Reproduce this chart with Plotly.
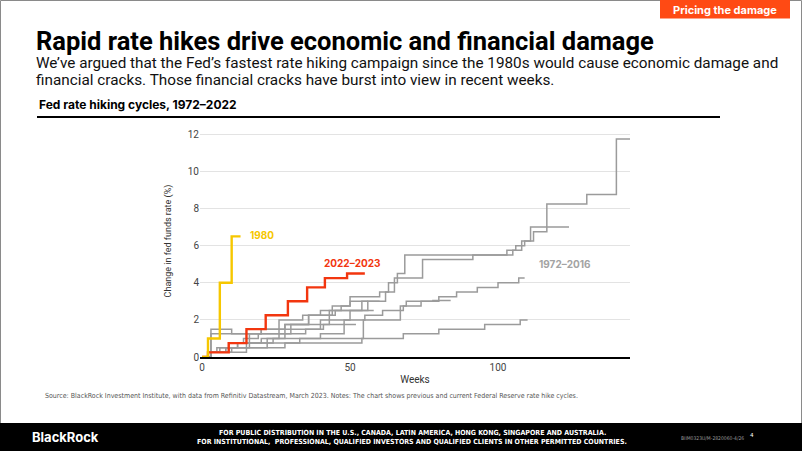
import plotly.graph_objects as go

# ---------------- data ----------------
y1980_weeks = [0, 2, 6, 10, 13]
y1980_vals = [0, 1.0, 4.0, 6.5, 6.5]

r2022_weeks = [0, 2, 9, 15, 21.5, 29, 35.5, 41.5, 49, 55]
r2022_vals = [0, 0.25, 0.75, 1.5, 2.25, 3.0, 3.75, 4.25, 4.5, 4.5]

g1_weeks = [0, 3, 8, 16, 20, 26, 40, 50, 56, 62, 65, 74.5, 91.5, 105, 108, 112, 116.5, 130, 140, 145]
g1_vals = [0, 0.25, 0.5, 0.75, 1.0, 1.5, 2.0, 2.5, 3.0, 3.5, 4.25, 5.25, 5.5, 5.75, 6.25, 6.75, 8.25, 8.75, 11.75, 11.75]

g2_weeks = [0, 3, 6, 9, 14, 19, 28, 36, 44, 50, 60, 63, 66, 68.5, 103, 106, 109, 111, 124]
g2_vals = [0, 0.25, 0.5, 0.75, 1.0, 1.25, 1.75, 2.25, 2.75, 3.25, 3.5, 4.0, 4.5, 5.5, 5.75, 6.0, 6.25, 7.0, 7.0]

g3_weeks = [0, 2, 9, 15, 22, 28, 35, 41, 48, 55, 61, 68, 74, 80, 86, 93, 100, 107, 109]
g3_vals = [0, 0.25, 0.5, 0.75, 1.0, 1.25, 1.5, 1.75, 2.0, 2.25, 2.5, 2.75, 3.0, 3.25, 3.5, 3.75, 4.0, 4.25, 4.25]

g4_weeks = [0, 2, 15, 28, 54, 68, 80, 95.5, 107.5, 110]
g4_vals = [0, 0.25, 0.5, 0.75, 1.0, 1.25, 1.5, 1.75, 2.0, 2.0]

g5_weeks = [0, 2, 8, 12, 16, 30, 43, 54, 60]
g5_vals = [0, 0.25, 0.5, 0.75, 1.25, 1.75, 2.5, 3.0, 3.0]

g6_weeks = [0, 2, 10, 22, 33, 40, 48, 52]
g6_vals = [0, 0.25, 0.5, 0.75, 1.0, 1.25, 1.75, 1.75]

g7_weeks = [0, 2, 5, 12, 24, 54.5, 67, 69, 78, 84]
g7_vals = [0, 0.25, 0.5, 0.75, 1.0, 2.0, 2.75, 3.0, 3.05, 3.05]

g8_weeks = [0, 3, 10, 20, 26, 34, 40, 47, 50, 56]
g8_vals = [0, 1.5, 1.25, 1.5, 2.0, 2.25, 2.5, 2.75, 3.0, 3.0]

g9_weeks = [0, 3, 20, 28, 36, 45, 58]
g9_vals = [0, 1.25, 1.5, 1.75, 2.25, 2.5, 2.5]

grey_series = [
    (g1_weeks, g1_vals), (g2_weeks, g2_vals), (g3_weeks, g3_vals),
    (g4_weeks, g4_vals), (g5_weeks, g5_vals), (g6_weeks, g6_vals),
    (g7_weeks, g7_vals), (g8_weeks, g8_vals), (g9_weeks, g9_vals),
]

y_ticks = [0, 2, 4, 6, 8, 10, 12]
x_ticks = [0, 50, 100]

title_text = "Rapid rate hikes drive economic and financial damage"
subtitle_l1 = "We\u2019ve argued that the Fed\u2019s fastest rate hiking campaign since the 1980s would cause economic damage and"
subtitle_l2 = "financial cracks. Those financial cracks have burst into view in recent weeks."
chart_title = "Fed rate hiking cycles, 1972\u20132022"
source_text = ("Source: BlackRock Investment Institute, with data from Refinitiv Datastream, March 2023. "
               "Notes: The chart shows previous and current Federal Reserve rate hike cycles.")
footer_l1 = "FOR PUBLIC DISTRIBUTION IN THE U.S., CANADA, LATIN AMERICA, HONG KONG, SINGAPORE AND AUSTRALIA."
footer_l2 = "FOR INSTITUTIONAL,  PROFESSIONAL, QUALIFIED INVESTORS AND QUALIFIED CLIENTS IN OTHER PERMITTED COUNTRIES."

# ---------------- layout geometry ----------------
W, H = 802, 451
ML, MR, MT, MB = 200, 172, 125, 94
PW, PH = W - ML - MR, H - MT - MB

def px(x):
    return (x - ML) / PW

def py(y):
    return (H - MB - y) / PH

GREY = "#9b9b9b"
RED = "#f2360f"
YELLOW = "#f6c700"
ORANGE = "#ff4a14"
FONT = "Roboto"
NARROW = "DejaVu Sans Condensed, Liberation Sans Narrow, Arial Narrow, sans-serif"

fig = go.Figure()
for wks, vals in grey_series:
    fig.add_trace(go.Scatter(x=wks, y=vals, mode="lines", line=dict(color=GREY, width=1.5, shape="hv"),
                             hoverinfo="skip", showlegend=False))
fig.add_trace(go.Scatter(x=r2022_weeks, y=r2022_vals, mode="lines",
                         line=dict(color=RED, width=2.4, shape="hv"), showlegend=False))
fig.add_trace(go.Scatter(x=y1980_weeks, y=y1980_vals, mode="lines",
                         line=dict(color=YELLOW, width=2.4, shape="hv"), showlegend=False))

fig.update_layout(
    width=W, height=H,
    margin=dict(l=ML, r=MR, t=MT, b=MB, autoexpand=False),
    paper_bgcolor="white", plot_bgcolor="white",
    font=dict(family=FONT, color="#333333"),
    xaxis=dict(range=[-0.7, 144.6], tickvals=x_ticks, showgrid=False, zeroline=False,
               showline=True, linecolor="black", linewidth=2, ticks="",
               tickfont=dict(size=10, color="#444444"),
               title=dict(text="Weeks", font=dict(size=10, color="#333333"), standoff=4)),
    yaxis=dict(range=[0, 12.5], tickvals=y_ticks, showgrid=True, gridcolor="#e3e3e3", gridwidth=1,
               zeroline=False, showline=False, ticks="", ticklen=0,
               tickfont=dict(size=10, color="#444444"),
               title=dict(text="Change in fed funds rate (%)", font=dict(size=9, color="#333333"), standoff=14)),
)

shapes = [
    dict(type="rect", xref="paper", yref="paper", x0=px(0.5), x1=px(801.5), y0=py(450.5), y1=py(0.5),
         line=dict(color="#8a8a8a", width=1), fillcolor="rgba(0,0,0,0)", layer="below"),
    dict(type="rect", xref="paper", yref="paper", x0=px(660), x1=px(790), y0=py(18.5), y1=py(0),
         line=dict(width=0), fillcolor=ORANGE),
    dict(type="line", xref="paper", yref="paper", x0=px(37), x1=px(720), y0=py(117), y1=py(117),
         line=dict(color="black", width=2)),
    dict(type="rect", xref="paper", yref="paper", x0=px(0), x1=px(802), y0=py(451), y1=py(423),
         line=dict(width=0), fillcolor="black"),
]

annotations = [
    dict(text="<b>Pricing the damage</b>", x=px(725), y=py(9.5), xanchor="center", yanchor="middle",
         font=dict(size=11, color="white", family="Inter")),
    dict(text="<b>" + title_text + "</b>", x=px(34), y=py(40.5), xanchor="left", yanchor="middle",
         font=dict(size=25.5, color="black", family="Roboto")),
    dict(text=subtitle_l1, x=px(34), y=py(62.5), xanchor="left", yanchor="middle",
         font=dict(size=15.3, color="#111111", family="Roboto")),
    dict(text=subtitle_l2, x=px(34), y=py(79.5), xanchor="left", yanchor="middle",
         font=dict(size=15.3, color="#111111", family="Roboto")),
    dict(text="<b>" + chart_title + "</b>", x=px(37), y=py(105), xanchor="left", yanchor="middle",
         font=dict(size=12, color="black", family="Inter")),
    dict(text="<b>1980</b>", x=20.4, y=6.57, xref="x", yref="y", xanchor="center", yanchor="middle",
         showarrow=False, font=dict(size=10, color=YELLOW, family="Inter")),
    dict(text="<b>2022\u20132023</b>", x=50.7, y=5.06, xref="x", yref="y", xanchor="center", yanchor="middle",
         showarrow=False, font=dict(size=10, color=RED, family="Inter")),
    dict(text="<b>1972\u20132016</b>", x=122.6, y=5.0, xref="x", yref="y", xanchor="center", yanchor="middle",
         showarrow=False, font=dict(size=10, color="#a3a3a3", family="Inter")),
    dict(text=source_text, x=px(43), y=py(396), xanchor="left", yanchor="middle",
         font=dict(size=7, color="#555555", family=NARROW)),
    dict(text="<b>BlackRock</b>", x=px(30), y=py(437), xanchor="left", yanchor="middle",
         font=dict(size=13, color="white", family="Inter")),
    dict(text="<b>" + footer_l1 + "</b>", x=px(412), y=py(432.5), xanchor="center", yanchor="middle",
         font=dict(size=7, color="white", family=NARROW)),
    dict(text="<b>" + footer_l2 + "</b>", x=px(412), y=py(441.5), xanchor="center", yanchor="middle",
         font=dict(size=7, color="white", family=NARROW)),
    dict(text="BIIM0323U/M-2820060-4/26", x=px(746), y=py(438), xanchor="right", yanchor="middle",
         font=dict(size=5, color="#9a9a9a", family=NARROW)),
    dict(text="4", x=px(752), y=py(434), xanchor="center", yanchor="middle",
         font=dict(size=6, color="white", family="Roboto")),
]
for a in annotations:
    a.setdefault("xref", "paper")
    a.setdefault("yref", "paper")
    a.setdefault("showarrow", False)

fig.update_layout(shapes=shapes, annotations=annotations)
fig.write_html("out.html", config={"displayModeBar": False},
               post_script="document.body.style.margin='0';document.body.style.overflow='hidden';")
